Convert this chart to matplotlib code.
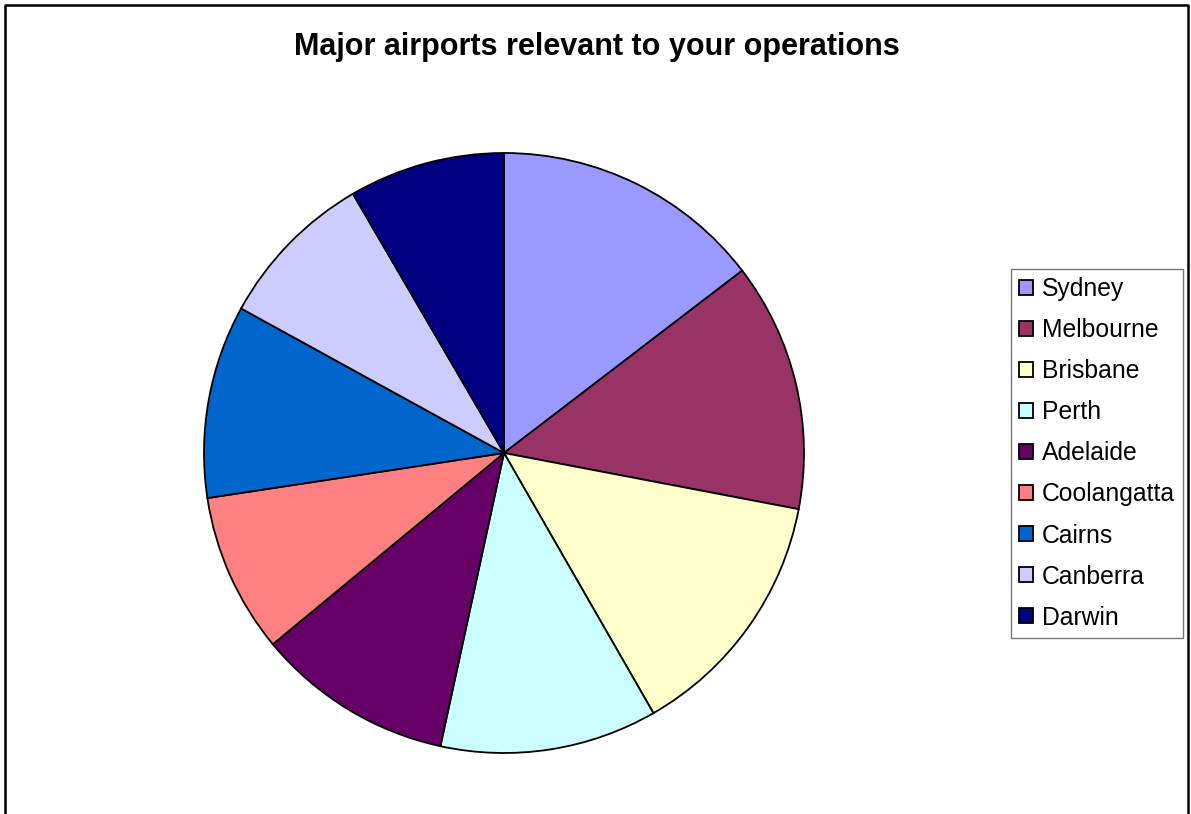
import matplotlib
matplotlib.use('Agg')
import matplotlib.pyplot as plt
from matplotlib.lines import Line2D

plt.rcParams['font.family'] = ['Liberation Sans', 'DejaVu Sans']

# share of operations per airport (percent)
airports = ['Sydney', 'Melbourne', 'Brisbane', 'Perth', 'Adelaide',
            'Coolangatta', 'Cairns', 'Canberra', 'Darwin']
shares = [14.6, 13.4, 13.7, 11.7, 10.6, 8.6, 10.4, 8.6, 8.4]
colours = ['#9999FF', '#993366', '#FFFFCC', '#CCFFFF', '#660066',
           '#FF8080', '#0066CC', '#CCCCFF', '#000080']

W, H = 1191, 814
fig = plt.figure(figsize=(W / 100, H / 100), dpi=100)

# outer frame (left, top, right)
fx = [4.5 / W, 4.5 / W, 1187.5 / W, 1187.5 / W]
fy = [0, 1 - 4.5 / H, 1 - 4.5 / H, 0]
fig.add_artist(Line2D(fx, fy, color='black', lw=1.8, transform=fig.transFigure))

cx, cy, r = 504, 453, 300
ax = fig.add_axes([(cx - r) / W, (H - cy - r) / H, 2 * r / W, 2 * r / H])
wedges, _ = ax.pie(shares, colors=colours, startangle=90, counterclock=False,
                   radius=1, wedgeprops=dict(edgecolor='black', linewidth=1.3))
ax.set_xlim(-1, 1)
ax.set_ylim(-1, 1)
ax.set_aspect('auto')
ax.axis('off')

fig.text(597 / W, 1 - 47 / H, 'Major airports relevant to your operations',
         ha='center', va='center', fontsize=22, fontweight='bold')

leg = fig.legend(wedges, airports, loc='upper left',
                 bbox_to_anchor=(1011 / W, 1 - 269 / H),
                 fontsize=17.8, frameon=True, fancybox=False,
                 handlelength=0.55, handleheight=0.55, handletextpad=0.38,
                 labelspacing=0.69, borderpad=0.33, borderaxespad=0)
leg.get_frame().set_edgecolor('#555555')
leg.get_frame().set_linewidth(1.0)

fig.savefig('out.png', dpi=100)
